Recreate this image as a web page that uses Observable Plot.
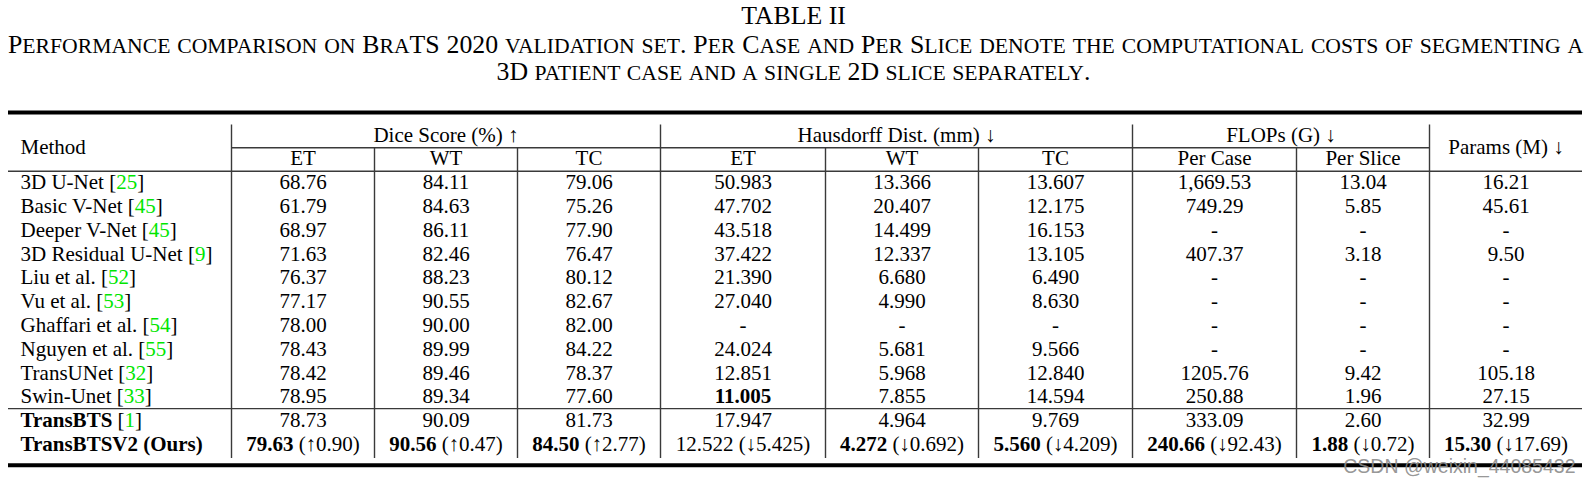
<!DOCTYPE html>
<html>
<head>
<meta charset="utf-8">
<script src="https://cdn.jsdelivr.net/npm/d3@7"></script>
<script src="https://cdn.jsdelivr.net/npm/@observablehq/plot@0.6"></script>
<style>
  body { margin: 0; background: #fff; }
  #cap { position: relative; width: 1587px; height: 96px; font-family: "Liberation Serif", "Times New Roman", serif; color: #000; }
  #cap div { position: absolute; line-height: 28px; font-size: 25.8px; white-space: nowrap; }
  #title { left: 0; width: 1587px; text-align: center; top: 2px; }
  #l1 { left: 8px; width: 1575px; top: 31px; text-align: justify; text-align-last: justify; }
  #l2 { left: 0; width: 1587px; text-align: center; top: 58px; }
  #chart svg text { white-space: pre; }
</style>
</head>
<body>
<div id="cap">
  <div id="title"></div>
  <div id="l1"></div>
  <div id="l2"></div>
</div>
<div id="chart"></div>
<script>
// ---------- data ----------
const tableTitle = "TABLE II";
const captionLine1 = "Performance comparison on BraTS 2020 validation set. Per Case and Per Slice denote the computational costs of segmenting a";
const captionLine2 = "3D patient case and a single 2D slice separately.";

const methods = ["3D U-Net", "Basic V-Net", "Deeper V-Net", "3D Residual U-Net", "Liu et al.", "Vu et al.",
  "Ghaffari et al.", "Nguyen et al.", "TransUNet", "Swin-Unet", "TransBTS", "TransBTSV2 (Ours)"];
const refs = ["25", "45", "45", "9", "52", "53", "54", "55", "32", "33", "1", ""];

const groupHeaders = ["Dice Score (%) ↑", "Hausdorff Dist. (mm) ↓", "FLOPs (G) ↓"];
const subHeaders = ["ET", "WT", "TC", "ET", "WT", "TC", "Per Case", "Per Slice"];
const methodHeader = "Method";
const paramsHeader = "Params (M) ↓";

const diceET = ["68.76", "61.79", "68.97", "71.63", "76.37", "77.17", "78.00", "78.43", "78.42", "78.95", "78.73", "79.63"];
const diceWT = ["84.11", "84.63", "86.11", "82.46", "88.23", "90.55", "90.00", "89.99", "89.46", "89.34", "90.09", "90.56"];
const diceTC = ["79.06", "75.26", "77.90", "76.47", "80.12", "82.67", "82.00", "84.22", "78.37", "77.60", "81.73", "84.50"];
const hdET = ["50.983", "47.702", "43.518", "37.422", "21.390", "27.040", "-", "24.024", "12.851", "11.005", "17.947", "12.522"];
const hdWT = ["13.366", "20.407", "14.499", "12.337", "6.680", "4.990", "-", "5.681", "5.968", "7.855", "4.964", "4.272"];
const hdTC = ["13.607", "12.175", "16.153", "13.105", "6.490", "8.630", "-", "9.566", "12.840", "14.594", "9.769", "5.560"];
const flopsCase = ["1,669.53", "749.29", "-", "407.37", "-", "-", "-", "-", "1205.76", "250.88", "333.09", "240.66"];
const flopsSlice = ["13.04", "5.85", "-", "3.18", "-", "-", "-", "-", "9.42", "1.96", "2.60", "1.88"];
const params = ["16.21", "45.61", "-", "9.50", "-", "-", "-", "-", "105.18", "27.15", "32.99", "15.30"];
const oursDelta = ["↑0.90", "↑0.47", "↑2.77", "↓5.425", "↓0.692", "↓4.209", "↓92.43", "↓0.72", "↓17.69"];

// emphasis: bold method names, bold cells as [row, value column]
const boldMethods = ["TransBTS", "TransBTSV2 (Ours)"];
const boldCells = [[9, 3], [11, 0], [11, 1], [11, 2], [11, 4], [11, 5], [11, 6], [11, 7], [11, 8]];

const watermark = "CSDN @weixin_44085432";

// ---------- layout ----------
const colWidths = [223, 143, 143, 143, 165, 153, 154, 164, 133, 153];
const edges = Array.from(d3.cumsum([0, ...colWidths]));
const total = edges[edges.length - 1];
const center = (a, b) => (edges[a] + edges[b]) / 2;
const citeColor = "#00e600";
const ruleColor = "#3a3a3a";

// ---------- caption (small caps) ----------
function smallCaps(s) {
  return s.replace(/[a-z]+/g, m => `<span style="font-size:84%">${m.toUpperCase()}</span>`);
}
document.getElementById("title").textContent = tableTitle;
document.getElementById("l1").innerHTML = smallCaps(captionLine1);
document.getElementById("l2").innerHTML = smallCaps(captionLine2);

// ---------- build cells ----------
const valueCols = [diceET, diceWT, diceTC, hdET, hdWT, hdTC, flopsCase, flopsSlice, params];
const isBold = (r, c) => boldCells.some(([br, bc]) => br === r && bc === c);
const lastRow = methods.length - 1;

const methodCells = methods.map((m, r) => {
  const name = boldMethods.includes(m) ? `*${m}*` : m;
  return {x: edges[0], y: r, t: refs[r] ? `${name} [{${refs[r]}}]` : name};
});

const valueCells = [];
valueCols.forEach((col, c) => {
  col.forEach((v, r) => {
    let t = isBold(r, c) ? `*${v}*` : v;
    if (r === lastRow) t += ` (${oursDelta[c]})`;
    valueCells.push({x: center(c + 1, c + 2), y: r, t});
  });
});

const headerCells = [
  {x: center(1, 4), y: -2, t: groupHeaders[0]},
  {x: center(4, 7), y: -2, t: groupHeaders[1]},
  {x: center(7, 9), y: -2, t: groupHeaders[2]},
  {x: center(9, 10), y: -1.5, t: paramsHeader},
  ...subHeaders.map((s, i) => ({x: center(i + 1, i + 2), y: -1, t: s}))
];

const thickRules = [{y: -2.94, x1: 0, x2: total}, {y: 11.88, x1: 0, x2: total}];
const thinRules = [
  {y: -1.46, x1: edges[1], x2: edges[9]},
  {y: -0.47, x1: 0, x2: total},
  {y: 9.5, x1: 0, x2: total}
];
const vRules = [
  ...[1, 4, 7, 9].map(i => ({x: edges[i], y1: -2.42, y2: 11.6})),
  ...[2, 3, 5, 6, 8].map(i => ({x: edges[i], y1: -1.46, y2: 11.6}))
];

const rowY = i => 86 + 23.8 * i;

const chart = Plot.plot({
  width: 1587,
  height: 387,
  margin: 0,
  x: {type: "linear", domain: [0, total], range: [8, 1582], axis: null},
  y: {type: "linear", domain: [-3, 12], range: [rowY(-3), rowY(12)], axis: null},
  style: {fontFamily: "'Liberation Serif', 'Times New Roman', serif", fontSize: "21px", color: "#000", background: "#fff", overflow: "visible"},
  marks: [
    Plot.ruleY(thickRules, {y: "y", x1: "x1", x2: "x2", stroke: "#000", strokeWidth: 4}),
    Plot.ruleY(thinRules, {y: "y", x1: "x1", x2: "x2", stroke: ruleColor, strokeWidth: 1.4}),
    Plot.ruleX(vRules, {x: "x", y1: "y1", y2: "y2", stroke: ruleColor, strokeWidth: 1.4}),
    Plot.text(methodCells, {x: "x", y: "y", text: "t", textAnchor: "start", dx: 12, fontSize: 21, fill: "#000"}),
    Plot.text(valueCells, {x: "x", y: "y", text: "t", textAnchor: "middle", fontSize: 21, fill: "#000"}),
    Plot.text(headerCells, {x: "x", y: "y", text: "t", textAnchor: "middle", fontSize: 21, fill: "#000"}),
    Plot.text([methodHeader], {x: edges[0], y: -1.5, text: d => d, textAnchor: "start", dx: 12, fontSize: 21, fill: "#000"}),
    Plot.text([watermark], {frameAnchor: "bottom-right", text: d => d, textAnchor: "end", dx: -12, dy: -11,
      fontSize: 19.5, fontFamily: "'Liberation Sans', Arial, sans-serif", fill: "#8a8a8a", fillOpacity: 0.9})
  ]
});

// rich text: *bold*, {green citation}
d3.select(chart).selectAll("text").each(function () {
  const s = this.textContent;
  if (!/[*{]/.test(s)) return;
  const segs = [];
  let bold = false, green = false, buf = "";
  const flush = () => { if (buf) segs.push({t: buf, bold, green}); buf = ""; };
  for (const ch of s) {
    if (ch === "*" || ch === "{" || ch === "}") {
      flush();
      if (ch === "*") bold = !bold; else green = ch === "{";
    } else buf += ch;
  }
  flush();
  const el = d3.select(this);
  el.text(null);
  for (const g of segs) {
    const ts = el.append("tspan").text(g.t);
    if (g.bold) ts.attr("font-weight", "bold");
    if (g.green) ts.attr("fill", citeColor);
  }
});

document.getElementById("chart").appendChild(chart);
</script>
</body>
</html>
